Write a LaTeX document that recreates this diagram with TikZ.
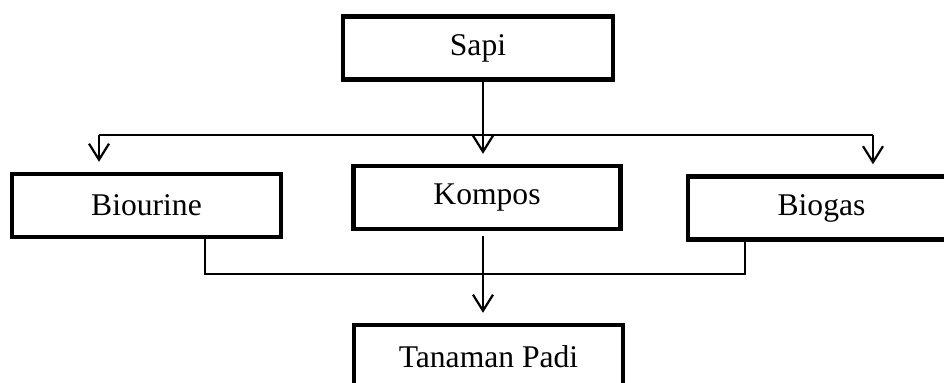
\documentclass[tikz,border=0pt]{standalone}
\usepackage{fontspec}
\setmainfont{Liberation Serif}
\usetikzlibrary{arrows.meta}

\begin{document}
\begin{tikzpicture}[x=0.5pt, y=-0.5pt, font=\fontsize{15.8}{18}\selectfont,
    box/.style={draw, line width=2.2pt, inner sep=0pt, minimum height=31.5pt},
    link/.style={line width=0.9pt},
    arr/.style={link, -{Straight Barb[length=8pt, width=10pt, line width=1.1pt]}, shorten >=5pt}]
    \useasboundingbox (0,0) rectangle (944,383);
    \clip (0,0) rectangle (944,383);

    \node[box, minimum width=135pt]    (sapi)   at (478,   48.0)  {Sapi};
    \node[box, minimum width=134.5pt]  (bio)    at (146.5, 205.5) {Biourine};
    \node[box, minimum width=133.5pt]  (kompos) at (487,   197.5) {Kompos};
    \node[box, minimum width=133.5pt]  (biogas) at (821.5, 208.0) {Biogas};
    \node[box, minimum width=134.5pt]  (padi)   at (488.5, 356.5) {Tanaman Padi};

    \coordinate (top)    at (483, 135);
    \coordinate (bioin)  at ( 99, 135);
    \coordinate (gasin)  at (873, 135);

    \coordinate (join)   at (483, 274);
    \coordinate (bioout) at (205, 274);
    \coordinate (gasout) at (745, 274);

    \draw[arr]  (sapi.south -| top) -- (kompos.north -| top);
    \draw[link] (bioin) -- (gasin);
    \draw[arr]  (bioin) -- (bioin |- bio.north);
    \draw[arr]  (gasin) -- (gasin |- biogas.north);

    \draw[link] (bio.south -| bioout) -- (bioout) -- (gasout) -- (biogas.south -| gasout);
    \draw[arr, shorten <=2.5pt] (kompos.south -| join) -- (padi.north -| join);
\end{tikzpicture}
\end{document}
